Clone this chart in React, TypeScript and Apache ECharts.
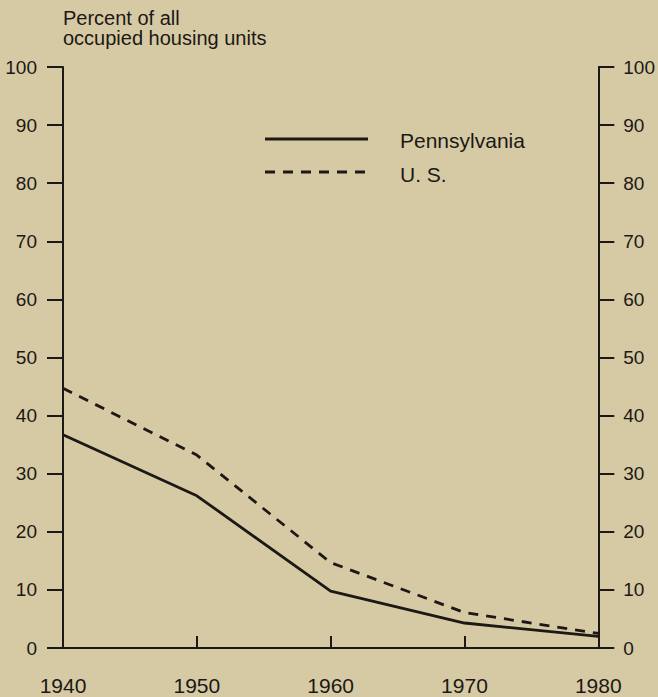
import React, { useEffect, useRef } from "react";
import * as echarts from "echarts";

const years = ["1940", "1950", "1960", "1970", "1980"];
const pennsylvania = [36.7, 26.2, 9.8, 4.3, 2.0];
const us = [44.7, 33.2, 14.7, 6.1, 2.5];
const yTicks = { min: 0, max: 100, interval: 10 };
const titleLines = ["Percent of all", "occupied housing units"];
const legendNames = ["Pennsylvania", "U. S."];

const INK = "#1c1815";
const BG = "#d6caa4";
const FONT = "'Liberation Sans', Arial, Helvetica, sans-serif";

export default function App() {
  const ref = useRef<HTMLDivElement>(null);
  useEffect(() => {
    document.body.style.margin = "0";
    document.body.style.background = BG;
    const chart = echarts.init(ref.current!, null, { renderer: "svg" });
    const yAxisBase = (position: "left" | "right") => ({
      type: "value",
      position,
      min: yTicks.min,
      max: yTicks.max,
      interval: yTicks.interval,
      axisLine: { show: true, lineStyle: { color: INK, width: 2 } },
      axisTick: { show: true, inside: false, length: 16, lineStyle: { color: INK, width: 2 } },
      axisLabel: {
        color: INK,
        fontSize: 19,
        fontFamily: FONT,
        margin: position === "left" ? 26 : 25,
      },
      splitLine: { show: false },
    });
    chart.setOption({
      animation: false,
      backgroundColor: BG,
      textStyle: { fontFamily: FONT, color: INK },
      title: {
        text: titleLines.join("\n"),
        left: 63,
        top: 8,
        padding: 0,
        textStyle: {
          color: INK,
          fontSize: 20,
          fontWeight: "normal",
          fontFamily: FONT,
          lineHeight: 20,
        },
      },
      grid: { left: 63, right: 58, top: 67, bottom: 49, containLabel: false },
      xAxis: [
        {
          type: "category",
          data: years,
          boundaryGap: false,
          position: "bottom",
          axisLine: { show: true, lineStyle: { color: INK, width: 2 } },
          axisTick: { show: true, inside: true, length: 12, lineStyle: { color: INK, width: 2 } },
          axisLabel: { color: INK, fontSize: 21, fontFamily: FONT, margin: 27 },
          splitLine: { show: false },
        },
        {
          type: "category",
          data: years,
          boundaryGap: false,
          position: "top",
          axisLine: { show: true, lineStyle: { color: INK, width: 2 } },
          axisTick: { show: false },
          axisLabel: { show: false },
          splitLine: { show: false },
        },
      ],
      yAxis: [yAxisBase("left"), yAxisBase("right")],
      series: [
        {
          name: legendNames[0],
          type: "line",
          data: pennsylvania,
          symbol: "none",
          lineStyle: { color: INK, width: 2.8, type: "solid" },
        },
        {
          name: legendNames[1],
          type: "line",
          data: us,
          symbol: "none",
          lineStyle: { color: INK, width: 2.8, type: [10, 8] },
        },
      ],
      graphic: [
        {
          type: "line",
          shape: { x1: 265, y1: 139, x2: 368, y2: 139 },
          style: { stroke: INK, lineWidth: 2.8 },
        },
        {
          type: "line",
          shape: { x1: 265, y1: 172, x2: 368, y2: 172 },
          style: { stroke: INK, lineWidth: 2.8, lineDash: [10, 8] },
        },
        {
          type: "text",
          left: 400,
          top: 130,
          style: { text: legendNames[0], fill: INK, fontSize: 21, fontFamily: FONT },
        },
        {
          type: "text",
          left: 400,
          top: 164,
          style: { text: legendNames[1], fill: INK, fontSize: 21, fontFamily: FONT },
        },
      ],
    });
    return () => chart.dispose();
  }, []);
  return (
    <div
      ref={ref}
      style={{ position: "absolute", left: 0, top: 0, width: 658, height: 697 }}
    />
  );
}
